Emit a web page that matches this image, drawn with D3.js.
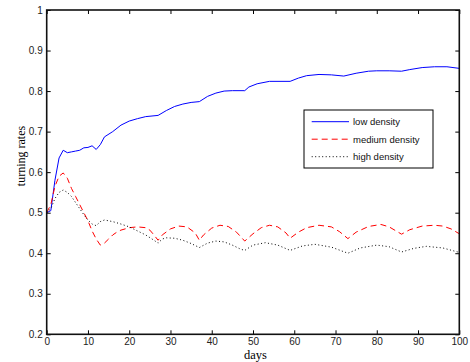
<!DOCTYPE html>
<html>
<head>
<meta charset="utf-8">
<script src="https://cdn.jsdelivr.net/npm/d3@7"></script>
<style>
  body { margin: 0; background: #fff; }
  svg { display: block; }
</style>
</head>
<body>
<div id="chart"></div>
<script>
// low density (blue, solid)
const lowDays = [0,1,2,3,4,5,6,7,8,9,10,11,12,13,14,16,18,20,22,24,27,29,31,33,35,37,39,41,43,45,48,49,51,54,59,61,63,66,69,72,75,78,80,83,86,88,91,94,97,100];
const lowVals = [0.50,0.505,0.58,0.635,0.654,0.648,0.65,0.652,0.654,0.66,0.661,0.665,0.656,0.668,0.687,0.70,0.716,0.726,0.732,0.737,0.74,0.752,0.762,0.768,0.772,0.774,0.787,0.795,0.80,0.801,0.801,0.81,0.818,0.824,0.824,0.832,0.838,0.841,0.84,0.837,0.844,0.849,0.85,0.85,0.849,0.853,0.858,0.86,0.86,0.856];

// medium density (red, dashed)
const medDays = [0,1,2,3,4,5,6,7,8,9,10,11,12,13,14,15,16,17,18,20,22,24,25,26,27,28,30,32,34,36,37,38,40,42,44,46,48,50,52,54,56,58,59,61,63,66,69,71,73,75,78,81,83,85,86,88,91,94,96,98,100];
const medVals = [0.50,0.52,0.565,0.59,0.598,0.585,0.56,0.54,0.52,0.50,0.48,0.455,0.435,0.42,0.425,0.435,0.445,0.452,0.457,0.463,0.465,0.463,0.457,0.445,0.432,0.445,0.46,0.467,0.465,0.45,0.432,0.445,0.462,0.469,0.466,0.452,0.43,0.448,0.463,0.469,0.465,0.45,0.437,0.452,0.463,0.469,0.465,0.453,0.436,0.452,0.466,0.471,0.465,0.453,0.447,0.458,0.467,0.469,0.467,0.46,0.448];

// high density (black, dotted)
const highDays = [0,1,2,3,4,5,6,7,8,9,10,11,12,13,14,16,18,20,22,24,26,27,28,29,31,33,35,37,39,41,43,45,47,48,50,53,56,59,62,65,69,73,76,80,83,86,89,92,96,100];
const highVals = [0.50,0.51,0.535,0.55,0.556,0.55,0.54,0.525,0.51,0.495,0.482,0.472,0.468,0.478,0.482,0.478,0.472,0.465,0.455,0.445,0.432,0.425,0.435,0.438,0.437,0.432,0.424,0.414,0.425,0.43,0.428,0.42,0.41,0.407,0.42,0.426,0.42,0.407,0.418,0.422,0.415,0.40,0.413,0.42,0.416,0.403,0.412,0.417,0.413,0.402];

const xTicks = [0,10,20,30,40,50,60,70,80,90,100];
const yTicks = [0.2,0.3,0.4,0.5,0.6,0.7,0.8,0.9,1];
const seriesNames = ["low density", "medium density", "high density"];

const W = 470, H = 362;
const pLeft = 46.7, pRight = 459.3, pTop = 10, pBottom = 334.3;

const svg = d3.select("#chart").append("svg")
  .attr("width", W)
  .attr("height", H);

const x = d3.scaleLinear().domain([0, 100]).range([pLeft, pRight]);
const y = d3.scaleLinear().domain([0.2, 1]).range([pBottom, pTop]);

const series = [
  { name: seriesNames[0], days: lowDays, vals: lowVals, color: "#0000ff", dash: null },
  { name: seriesNames[1], days: medDays, vals: medVals, color: "#ff0000", dash: "6,4" },
  { name: seriesNames[2], days: highDays, vals: highVals, color: "#000", dash: "1,2.5" }
];

const line = d3.line()
  .x(d => x(d[0]))
  .y(d => y(d[1]));

// lines
series.forEach(s => {
  svg.append("path")
    .datum(s.days.map((d, i) => [d, s.vals[i]]))
    .attr("fill", "none")
    .attr("stroke", s.color)
    .attr("stroke-width", 1)
    .attr("stroke-dasharray", s.dash)
    .attr("d", line);
});

// axes (ticks pointing inward, box on all sides)
const tickFont = g => g.selectAll("text")
  .attr("font-family", "'Liberation Sans', Arial, sans-serif")
  .attr("font-size", 10)
  .attr("fill", "#222");

svg.append("g")
  .attr("transform", `translate(0,${pBottom})`)
  .call(d3.axisBottom(x).tickValues(xTicks).tickFormat(d3.format("d")).tickSizeInner(-4).tickSizeOuter(0).tickPadding(4))
  .call(tickFont)
  .call(g => g.select(".domain").remove());

svg.append("g")
  .attr("transform", `translate(0,${pTop})`)
  .call(d3.axisTop(x).tickValues(xTicks).tickSizeInner(-4).tickSizeOuter(0).tickFormat(""))
  .call(g => g.select(".domain").remove());

svg.append("g")
  .attr("transform", `translate(${pLeft},0)`)
  .call(d3.axisLeft(y).tickValues(yTicks).tickFormat(d => d === 1 ? "1" : d3.format(".1f")(d)).tickSizeInner(-4).tickSizeOuter(0).tickPadding(4))
  .call(tickFont)
  .call(g => g.select(".domain").remove());

svg.append("g")
  .attr("transform", `translate(${pRight},0)`)
  .call(d3.axisRight(y).tickValues(yTicks).tickSizeInner(-4).tickSizeOuter(0).tickFormat(""))
  .call(g => g.select(".domain").remove());

svg.selectAll(".tick line").attr("stroke", "#000").attr("stroke-width", 1);

// frame
svg.append("rect")
  .attr("x", pLeft)
  .attr("y", pTop)
  .attr("width", pRight - pLeft)
  .attr("height", pBottom - pTop)
  .attr("fill", "none")
  .attr("stroke", "#111")
  .attr("stroke-width", 1.6);

// axis labels
svg.append("text")
  .attr("x", 255.5)
  .attr("y", 358.5)
  .attr("text-anchor", "middle")
  .attr("font-family", "'Liberation Serif', 'Times New Roman', serif")
  .attr("font-size", 12.5)
  .text("days");

svg.append("text")
  .attr("transform", "translate(25,156) rotate(-90)")
  .attr("text-anchor", "middle")
  .attr("font-family", "'Liberation Serif', 'Times New Roman', serif")
  .attr("font-size", 12)
  .text("turning rates");

// legend
const lg = svg.append("g").attr("transform", "translate(304,110)");
lg.append("rect")
  .attr("width", 129)
  .attr("height", 58)
  .attr("fill", "#fff")
  .attr("stroke", "#000")
  .attr("stroke-width", 1);

series.forEach((s, i) => {
  const ly = 11.7 + i * 17.5;
  lg.append("line")
    .attr("x1", 7.7).attr("x2", 45)
    .attr("y1", ly).attr("y2", ly)
    .attr("stroke", s.color)
    .attr("stroke-width", 1)
    .attr("stroke-dasharray", s.dash);
  lg.append("text")
    .attr("x", 49)
    .attr("y", ly + 3.5)
    .attr("font-family", "'Liberation Sans', Arial, sans-serif")
    .attr("font-size", 9.5)
    .attr("fill", "#111")
    .text(s.name);
});
</script>
</body>
</html>
